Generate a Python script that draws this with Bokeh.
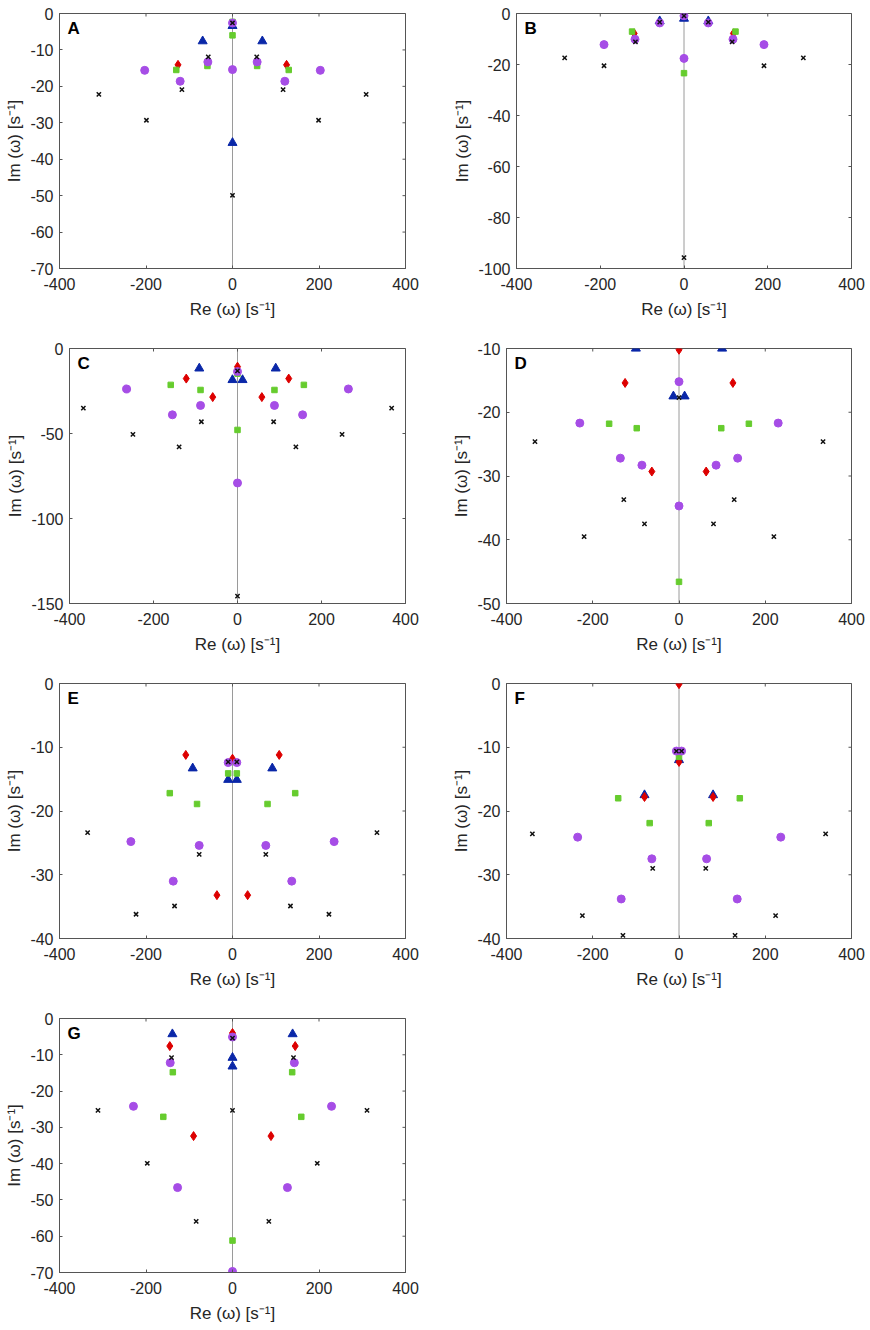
import math
from bokeh.plotting import figure
from bokeh.models import Range1d, FixedTicker, Span, Label
from bokeh.layouts import column, row
from bokeh.embed import file_html
from bokeh.resources import INLINE

# ---------------- data (Re, Im of eigenfrequencies) ----------------
x_ticks = [-400, -200, 0, 200, 400]
x_tick_labels = ["-400", "-200", "0", "200", "400"]

# Panel A
A_x_re = [-309, 309, -199, 199, -117, 117, -56, 56, 0, 0]
A_x_im = [-22.2, -22.2, -29.3, -29.3, -20.9, -20.9, -11.9, -11.9, -49.9, -2.6]
A_o_re = [-203, 203, -121, 121, -57, 57, 0, 0]
A_o_im = [-15.6, -15.6, -18.6, -18.6, -13.3, -13.3, -15.4, -2.6]
A_s_re = [-130, 130, -58, 57, 0, 0]
A_s_im = [-15.5, -15.5, -14.4, -14.4, -6.0, -2.3]
A_d_re = [-126, 125]
A_d_im = [-14.1, -14.1]
A_t_re = [-69, 69, 0, 0]
A_t_im = [-7.6, -7.6, -3.4, -35.5]
A_yticks = [0, -10, -20, -30, -40, -50, -60, -70]

# Panel B
B_x_re = [-285, 285, -191, 191, -116, 115, -58, 58, 0, 0]
B_x_im = [-17.4, -17.4, -20.5, -20.5, -11.1, -11.1, -3.4, -3.4, -95.7, -0.9]
B_o_re = [-191, 191, -117, 117, -58, 58, 0, 0]
B_o_im = [-12.2, -12.2, -10.1, -10.1, -3.7, -3.7, -17.6, -0.9]
B_s_re = [-124, 123, 0]
B_s_im = [-7.1, -7.1, -23.4]
B_d_re = [-119, 118]
B_d_im = [-7.8, -7.8]
B_t_re = [-58, 58, 0]
B_t_im = [-3.0, -3.0, -2.0]
B_yticks = [0, -20, -40, -60, -80, -100]

# Panel C
C_x_re = [-367, 367, -249, 249, -139, 139, -86, 86, 0, 0]
C_x_im = [-35.1, -35.1, -50.5, -50.5, -57.9, -57.9, -43.1, -43.1, -145.7, -13.2]
C_o_re = [-264, 264, -155, 155, -88, 88, 0, 0]
C_o_im = [-23.8, -23.8, -39.0, -39.0, -33.5, -33.5, -79.1, -13.6]
C_s_re = [-159, 158, -88, 88, 0, 0]
C_s_im = [-21.4, -21.4, -24.4, -24.4, -47.9, -14.8]
C_d_re = [-122, 122, -59, 58, 0]
C_d_im = [-17.7, -17.7, -28.6, -28.6, -10.7]
C_t_re = [-91, 91, -12, 12]
C_t_im = [-11.7, -11.7, -18.5, -18.5]
C_yticks = [0, -50, -100, -150]

# Panel D
D_x_re = [-334, 334, -220, 220, -128, 128, -80, 80, 0]
D_x_im = [-24.6, -24.6, -39.5, -39.5, -33.7, -33.7, -37.5, -37.5, -17.7]
D_o_re = [-230, 230, -136, 136, -86, 86, 0, 0]
D_o_im = [-21.7, -21.7, -27.2, -27.2, -28.3, -28.3, -15.2, -34.7]
D_s_re = [-162, 162, -98, 98, 0]
D_s_im = [-21.8, -21.8, -22.5, -22.5, -46.6]
D_d_re = [-125, 125, -63, 63, 0]
D_d_im = [-15.4, -15.4, -29.3, -29.3, -10.2]
D_t_re = [-100, 100, -13, 13]
D_t_im = [-10.0, -10.0, -17.5, -17.5]
D_yticks = [-10, -20, -30, -40, -50]

# Panel E
E_x_re = [-335, 334, -223, 223, -134, 134, -77, 77, -10, 10]
E_x_im = [-23.4, -23.4, -36.2, -36.2, -34.9, -34.9, -26.8, -26.8, -12.3, -12.3]
E_o_re = [-235, 235, -137, 137, -77, 77, -10, 10]
E_o_im = [-24.8, -24.8, -31.0, -31.0, -25.4, -25.4, -12.4, -12.4]
E_s_re = [-145, 145, -82, 81, -10, 10]
E_s_im = [-17.2, -17.2, -18.9, -18.9, -14.1, -14.1]
E_d_re = [-108, 108, -36, 35, 0]
E_d_im = [-11.2, -11.2, -33.2, -33.2, -11.8]
E_t_re = [-92, 92, -10, 10]
E_t_im = [-13.3, -13.3, -15.1, -15.1]
E_yticks = [0, -10, -20, -30, -40]

# Panel F
F_x_re = [-340, 340, -224, 224, -130, 130, -61, 62, -6, 6]
F_x_im = [-23.6, -23.6, -36.4, -36.4, -39.5, -39.5, -29.0, -29.0, -10.6, -10.6]
F_o_re = [-235, 236, -134, 135, -63, 64, -6, 6]
F_o_im = [-24.1, -24.1, -33.8, -33.8, -27.5, -27.5, -10.6, -10.6]
F_s_re = [-141, 141, -68, 69, 0]
F_s_im = [-18.0, -18.0, -21.9, -21.9, -11.5]
F_d_re = [-80, 79, 0, 0]
F_d_im = [-17.8, -17.8, -0.1, -12.3]
F_t_re = [-80, 79, 0]
F_t_im = [-17.5, -17.5, -12.0]
F_yticks = [0, -10, -20, -30, -40]

# Panel G
G_x_re = [-311, 311, -197, 196, -84, 84, -141, 141, 0, 0]
G_x_im = [-25.3, -25.3, -39.9, -39.9, -55.9, -55.9, -10.8, -10.8, -25.3, -5.4]
G_o_re = [-229, 229, -127, 127, -144, 143, 0, 0]
G_o_im = [-24.2, -24.2, -46.6, -46.6, -12.2, -12.2, -5.1, -69.7]
G_s_re = [-138, 138, -160, 159, 0]
G_s_im = [-14.8, -14.8, -27.1, -27.1, -61.2]
G_d_re = [-145, 145, -90, 89, 0]
G_d_im = [-7.6, -7.6, -32.4, -32.4, -4.0]
G_t_re = [-139, 139, 0, 0]
G_t_im = [-4.3, -4.3, -10.8, -13.2]
G_yticks = [0, -10, -20, -30, -40, -50, -60, -70]

# ---------------- styling ----------------
FONT = "Liberation Sans"
TXT = "#262626"
BOX = "#555555"
C_TRI = "#0a27a8"
C_DIA = "#dd0000"
C_SQ = "#66cc2e"
C_CIR = "#a64de6"
C_X = "#111111"


def style_axis(ax, ticks, labels, label_standoff, title_standoff):
    ax.ticker = FixedTicker(ticks=ticks)
    ax.major_tick_in = 3
    ax.major_tick_out = 0
    ax.minor_tick_in = 0
    ax.minor_tick_out = 0
    ax.major_tick_line_color = BOX
    ax.major_tick_line_width = 1
    ax.axis_line_color = BOX
    ax.axis_line_width = 1
    ax.major_label_overrides = {t: l for t, l in zip(ticks, labels)}
    ax.major_label_text_font = FONT
    ax.major_label_text_font_size = "16px"
    ax.major_label_text_color = TXT
    ax.major_label_standoff = label_standoff
    ax.axis_label_text_font = FONT
    ax.axis_label_text_font_size = "17px"
    ax.axis_label_text_font_style = "normal"
    ax.axis_label_text_color = TXT
    ax.axis_label_standoff = title_standoff


def panel(letter, ymin, ymax, yticks, w, h, bl, br, bt, bb,
          x_re, x_im, o_re, o_im, s_re, s_im, d_re, d_im, t_re, t_im):
    p = figure(width=w, height=h, x_range=Range1d(-400, 400),
               y_range=Range1d(ymin, ymax), output_backend="svg",
               toolbar_location=None, tools="",
               min_border_left=bl, min_border_right=br,
               min_border_top=bt, min_border_bottom=bb)
    p.grid.visible = False
    p.outline_line_color = BOX
    p.outline_line_width = 1
    p.background_fill_color = "white"
    p.border_fill_color = "white"

    ylabels = [str(t) for t in yticks]
    style_axis(p.xaxis[0], x_ticks, x_tick_labels, 9, 7)
    style_axis(p.yaxis[0], yticks, ylabels, 6, 3)
    p.xaxis[0].axis_label = "Re (\u03c9) [s\u207b\u00b9]"
    p.yaxis[0].axis_label = "Im (\u03c9) [s\u207b\u00b9]"

    # inward ticks on the top and right edges of the box (clipped to the frame)
    p.scatter(x_ticks, [ymax] * len(x_ticks), marker="dash", angle=math.pi / 2,
              size=6, line_color=BOX, line_width=1)
    p.scatter([400] * len(yticks), yticks, marker="dash", angle=0,
              size=6, line_color=BOX, line_width=1)

    p.add_layout(Span(location=0, dimension="height", line_color="#9a9a9a",
                      line_width=1, level="underlay"))

    p.scatter(t_re, t_im, marker="triangle", size=9, fill_color=C_TRI, line_color=C_TRI)
    p.scatter(d_re, d_im, marker="diamond", size=9, fill_color=C_DIA, line_color=C_DIA)
    p.scatter(s_re, s_im, marker="square", size=5.5, fill_color=C_SQ, line_color=C_SQ)
    p.scatter(o_re, o_im, marker="circle", size=8, fill_color=C_CIR, line_color=C_CIR)
    p.scatter(x_re, x_im, marker="x", size=6, line_color=C_X, line_width=1.5)

    p.add_layout(Label(x=-400, y=ymax, x_offset=8, y_offset=-5, text=letter,
                       text_font=FONT, text_font_style="bold", text_font_size="17px",
                       text_baseline="top", text_color="black"))
    return p


pA = panel("A", -70, 0, A_yticks, 435, 335, 59, 30, 13, 67,
           A_x_re, A_x_im, A_o_re, A_o_im, A_s_re, A_s_im, A_d_re, A_d_im, A_t_re, A_t_im)
pB = panel("B", -100, 0, B_yticks, 435, 335, 81, 19, 13, 67,
           B_x_re, B_x_im, B_o_re, B_o_im, B_s_re, B_s_im, B_d_re, B_d_im, B_t_re, B_t_im)
pC = panel("C", -150, 0, C_yticks, 435, 335, 69, 30, 12, 66,
           C_x_re, C_x_im, C_o_re, C_o_im, C_s_re, C_s_im, C_d_re, C_d_im, C_t_re, C_t_im)
pD = panel("D", -50, -10, D_yticks, 435, 335, 71, 19, 13, 67,
           D_x_re, D_x_im, D_o_re, D_o_im, D_s_re, D_s_im, D_d_re, D_d_im, D_t_re, D_t_im)
pE = panel("E", -40, 0, E_yticks, 435, 335, 59, 30, 13, 67,
           E_x_re, E_x_im, E_o_re, E_o_im, E_s_re, E_s_im, E_d_re, E_d_im, E_t_re, E_t_im)
pF = panel("F", -40, 0, F_yticks, 435, 335, 71, 19, 13, 67,
           F_x_re, F_x_im, F_o_re, F_o_im, F_s_re, F_s_im, F_d_re, F_d_im, F_t_re, F_t_im)
pG = panel("G", -70, 0, G_yticks, 435, 320, 59, 30, 13, 51,
           G_x_re, G_x_im, G_o_re, G_o_im, G_s_re, G_s_im, G_d_re, G_d_im, G_t_re, G_t_im)

layout = column(row(pA, pB), row(pC, pD), row(pE, pF), row(pG))

open("out.html", "w").write(file_html(layout, INLINE))
